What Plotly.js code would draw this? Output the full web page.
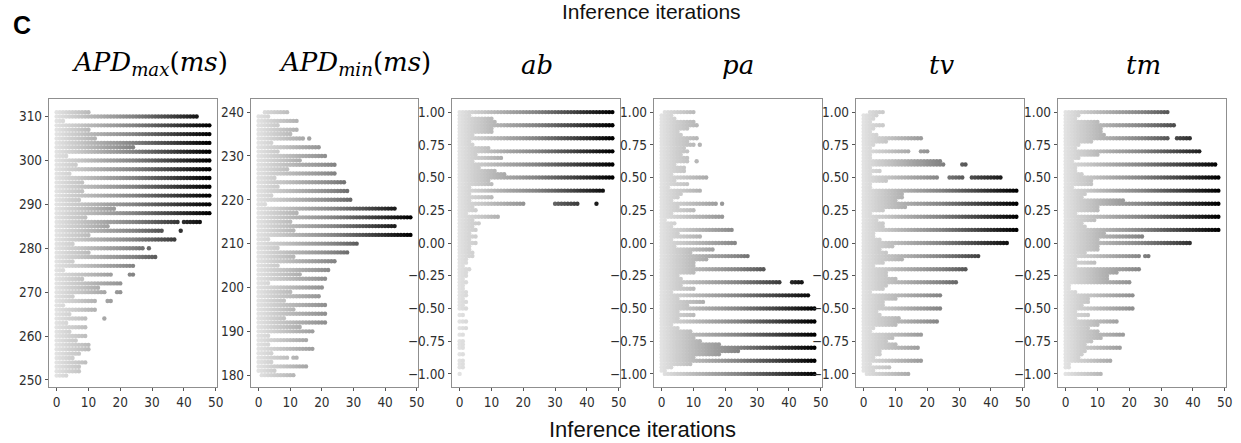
<!DOCTYPE html>
<html>
<head>
<meta charset="utf-8">
<script src="https://cdn.plot.ly/plotly-3.0.1.min.js"></script>
<style>
  html, body { margin: 0; padding: 0; background: #ffffff; }
  #chart { width: 1241px; height: 443px; }
</style>
</head>
<body>
<div id="chart"></div>
<script>
// Each row: [parameter value, first iteration, last iteration] for which that value is present.
const apdMaxRows = [
  [311,0,10],[310,0,44],[309,0,2],[308,0,48],[307,0,10],[306,0,48],[305,0,12],[304,0,48],
  [303,0,24],[302,0,48],[301,0,3],[300,0,48],[299,0,6],[298,0,48],[297,0,4],[296,0,48],
  [295,0,8],[294,0,48],[293,0,8],[292,0,48],[291,0,7],[290,0,48],[289,0,18],[288,0,48],
  [287,0,9],[286,0,38],[286,40,45],[285,0,16],[284,0,33],[284,39,39],[283,0,10],[282,0,37],
  [281,0,5],[280,0,27],[280,29,29],[279,0,10],[278,0,31],[277,0,5],[276,0,24],[275,0,2],
  [274,0,17],[274,23,24],[273,0,8],[272,0,20],[271,0,13],[270,0,15],[270,19,20],[269,0,5],
  [268,0,12],[268,16,17],[267,0,2],[266,0,12],[265,0,4],[264,0,9],[264,15,15],[263,0,3],
  [262,0,9],[261,0,4],[260,0,9],[259,0,6],[258,0,10],[257,0,10],[256,0,7],[255,0,5],
  [254,0,9],[253,0,7],[252,0,7],[251,0,3]
];

const apdMinRows = [
  [240,2,9],[239,0,3],[238,0,12],[237,0,6],[236,0,12],[235,0,10],[234,0,14],[234,16,16],
  [233,0,4],[232,0,19],[231,0,6],[230,0,21],[229,0,13],[228,0,24],[227,0,9],[226,0,24],
  [225,0,5],[224,0,27],[223,0,6],[222,0,28],[221,0,4],[220,0,29],[219,0,2],[218,0,43],
  [217,0,12],[216,0,48],[215,0,10],[214,0,43],[213,0,11],[212,0,48],[211,0,3],[210,0,31],
  [209,0,6],[208,0,28],[207,0,11],[206,0,24],[205,0,6],[204,0,22],[203,0,13],[202,0,21],
  [201,0,3],[200,0,20],[199,0,10],[198,0,19],[197,0,8],[196,0,21],[195,0,11],[194,0,21],
  [193,0,8],[192,0,21],[191,0,13],[190,0,17],[189,0,3],[188,0,15],[187,0,3],[186,0,17],
  [185,0,4],[184,0,9],[184,11,12],[183,0,4],[182,0,15],[181,0,5],[180,1,11]
];

const abRows = [
  [1.00,0,48],[0.975,0,3],[0.95,0,10],[0.925,0,11],[0.90,0,48],[0.875,0,10],[0.85,0,10],
  [0.825,0,4],[0.80,0,48],[0.775,0,3],[0.75,0,4],[0.725,0,9],[0.70,0,48],[0.675,0,5],
  [0.65,0,13],[0.625,0,4],[0.60,0,48],[0.575,0,6],[0.55,0,11],[0.525,0,14],[0.50,0,48],
  [0.475,0,9],[0.45,0,10],[0.425,0,3],[0.40,0,45],[0.375,0,3],[0.35,0,10],[0.325,0,3],
  [0.30,0,20],[0.30,30,37],[0.30,43,43],[0.275,0,4],[0.25,0,5],[0.225,0,2],[0.20,0,12],
  [0.175,0,4],[0.15,0,6],[0.125,0,4],[0.10,0,5],[0.075,0,3],[0.05,0,5],[0.025,0,3],
  [0.00,0,5],[-0.025,0,3],[-0.05,0,3],[-0.075,0,4],[-0.10,0,4],[-0.125,0,2],[-0.15,0,2],
  [-0.175,0,1],[-0.20,0,3],[-0.225,0,2],[-0.25,0,2],[-0.275,0,1],[-0.30,0,2],[-0.325,0,1],
  [-0.35,0,1],[-0.375,0,2],[-0.40,0,2],[-0.425,0,1],[-0.45,0,2],[-0.475,0,1],[-0.50,0,2],
  [-0.55,0,1],[-0.60,0,2],[-0.65,0,2],[-0.70,0,1],[-0.75,0,1],[-0.775,0,1],[-0.80,0,1],
  [-0.85,0,1],[-0.90,0,1],[-0.925,0,1],[-0.95,0,1],[-1.00,0,0]
];

const paRows = [
  [1.00,1,10],[0.975,0,3],[0.95,0,4],[0.925,0,10],[0.90,0,11],[0.875,0,8],[0.85,0,5],
  [0.825,0,6],[0.80,0,11],[0.775,0,8],[0.75,0,10],[0.75,12,12],[0.725,0,7],[0.70,0,8],
  [0.675,0,6],[0.65,0,8],[0.625,0,8],[0.625,11,11],[0.60,0,4],[0.575,0,7],[0.55,0,7],
  [0.525,0,3],[0.50,0,14],[0.475,0,4],[0.45,0,8],[0.425,0,2],[0.40,0,12],[0.375,0,6],
  [0.35,0,5],[0.325,0,3],[0.30,0,17],[0.30,19,19],[0.275,0,5],[0.25,0,10],[0.225,0,3],
  [0.20,0,19],[0.175,0,1],[0.15,0,4],[0.125,0,3],[0.10,0,22],[0.075,0,5],[0.05,0,12],
  [0.025,0,3],[0.00,0,23],[-0.025,0,4],[-0.05,0,16],[-0.075,0,9],[-0.10,0,27],[-0.125,0,14],
  [-0.15,0,10],[-0.175,0,10],[-0.20,0,32],[-0.225,0,10],[-0.25,0,5],[-0.275,0,6],
  [-0.30,0,37],[-0.30,41,44],[-0.325,0,6],[-0.35,0,10],[-0.375,0,3],[-0.40,0,46],
  [-0.425,0,5],[-0.45,0,13],[-0.475,0,8],[-0.50,0,48],[-0.525,0,5],[-0.55,0,10],
  [-0.575,0,5],[-0.60,0,48],[-0.625,0,3],[-0.65,0,5],[-0.675,0,9],[-0.70,0,48],
  [-0.725,0,10],[-0.75,0,12],[-0.775,0,18],[-0.80,0,48],[-0.825,0,24],[-0.85,0,18],
  [-0.875,0,10],[-0.90,0,48],[-0.925,0,9],[-0.95,0,3],[-0.975,0,1],[-1.00,1,48]
];

const tvRows = [
  [1.00,2,6],[0.975,0,4],[0.95,0,3],[0.925,0,2],[0.90,0,6],[0.875,0,3],[0.85,0,2],
  [0.825,0,4],[0.80,0,18],[0.775,0,7],[0.75,0,3],[0.725,0,2],[0.70,0,14],[0.70,18,20],
  [0.675,0,2],[0.65,0,2],[0.625,0,24],[0.60,0,25],[0.60,31,32],[0.575,0,2],[0.55,0,5],
  [0.525,0,2],[0.50,0,23],[0.50,27,31],[0.50,34,43],[0.475,0,7],[0.45,0,2],[0.425,0,2],
  [0.40,0,48],[0.375,0,12],[0.35,0,12],[0.325,0,10],[0.30,0,48],[0.275,0,13],[0.25,0,6],
  [0.225,0,2],[0.20,0,48],[0.175,0,4],[0.15,0,6],[0.125,0,6],[0.10,0,48],[0.075,0,3],
  [0.05,0,3],[0.025,0,5],[0.00,0,45],[-0.025,0,9],[-0.05,0,5],[-0.075,0,7],[-0.10,0,36],
  [-0.125,0,12],[-0.15,0,6],[-0.175,0,3],[-0.20,0,32],[-0.225,0,7],[-0.25,0,7],
  [-0.275,0,10],[-0.30,0,29],[-0.325,0,7],[-0.35,0,6],[-0.375,0,2],[-0.40,0,24],
  [-0.425,0,10],[-0.45,0,6],[-0.475,0,6],[-0.50,0,24],[-0.525,0,4],[-0.55,0,5],
  [-0.575,0,11],[-0.60,0,23],[-0.625,0,10],[-0.65,0,3],[-0.675,0,2],[-0.70,0,18],
  [-0.725,0,9],[-0.75,0,7],[-0.775,0,10],[-0.80,0,17],[-0.825,0,5],[-0.85,0,5],
  [-0.875,0,3],[-0.90,0,18],[-0.925,0,2],[-0.95,0,8],[-0.975,0,3],[-1.00,1,14]
];

const tmRows = [
  [1.00,0,32],[0.975,0,4],[0.95,0,3],[0.925,0,10],[0.90,0,34],[0.875,0,11],[0.85,0,11],
  [0.825,0,12],[0.80,0,32],[0.80,35,39],[0.775,0,8],[0.75,0,4],[0.725,0,3],[0.70,0,42],
  [0.675,0,10],[0.65,0,4],[0.625,0,2],[0.60,0,47],[0.575,0,3],[0.55,0,3],[0.525,0,5],
  [0.50,0,48],[0.475,0,8],[0.45,0,8],[0.425,0,2],[0.40,0,48],[0.375,0,6],[0.35,0,5],
  [0.325,0,18],[0.30,0,48],[0.275,0,10],[0.25,0,10],[0.225,0,3],[0.20,0,48],[0.175,0,9],
  [0.15,0,5],[0.125,0,6],[0.10,0,48],[0.075,0,12],[0.05,0,24],[0.025,0,10],[0.00,0,39],
  [-0.025,0,10],[-0.05,0,10],[-0.075,0,6],[-0.10,0,23],[-0.10,25,26],[-0.125,0,3],
  [-0.15,0,9],[-0.175,0,3],[-0.20,0,23],[-0.225,0,16],[-0.25,0,13],[-0.275,0,13],
  [-0.30,0,20],[-0.325,0,1],[-0.35,0,1],[-0.375,0,3],[-0.40,0,21],[-0.425,0,7],
  [-0.45,0,7],[-0.475,0,5],[-0.50,0,21],[-0.525,0,3],[-0.55,0,7],[-0.575,0,3],
  [-0.60,0,16],[-0.625,0,10],[-0.65,0,7],[-0.675,0,10],[-0.70,0,18],[-0.725,0,11],
  [-0.75,0,8],[-0.775,0,6],[-0.80,0,17],[-0.825,0,6],[-0.85,0,5],[-0.875,0,4],
  [-0.90,0,14],[-0.925,0,1],[-0.95,0,1],[-1.00,0,11]
];

const panelTitles = [
  '<i>APD</i><sub><i>max</i></sub>(<i>ms</i>)',
  '<i>APD</i><sub><i>min</i></sub>(<i>ms</i>)',
  '<i>ab</i>', '<i>pa</i>', '<i>tv</i>', '<i>tm</i>'
];
const xTicks = [0, 10, 20, 30, 40, 50];
const apdMaxTicks = [250, 260, 270, 280, 290, 300, 310];
const apdMinTicks = [180, 190, 200, 210, 220, 230, 240];
const unitTicks = [-1, -0.75, -0.5, -0.25, 0, 0.25, 0.5, 0.75, 1];
const lastIteration = 48;

const W = 1241, H = 443;
const px = v => v / W;
const py = v => 1 - v / H;

const panels = [
  { rows: apdMaxRows, left: 49,   right: 217,  yr: [248.4, 314], ticks: apdMaxTicks, fmt: 'd',   tx: 150 },
  { rows: apdMinRows, left: 251,  right: 418,  yr: [177.3, 243], ticks: apdMinTicks, fmt: 'd',   tx: 355 },
  { rows: abRows,     left: 452,  right: 620,  yr: [-1.1, 1.1],  ticks: unitTicks,   fmt: '.2f', tx: 537 },
  { rows: paRows,     left: 654,  right: 822,  yr: [-1.1, 1.1],  ticks: unitTicks,   fmt: '.2f', tx: 738 },
  { rows: tvRows,     left: 856,  right: 1024, yr: [-1.1, 1.1],  ticks: unitTicks,   fmt: '.2f', tx: 941 },
  { rows: tmRows,     left: 1058, right: 1226, yr: [-1.1, 1.1],  ticks: unitTicks,   fmt: '.2f', tx: 1143 }
];

const plotTop = 99, plotBottom = 387;
const frameColor = '#8f8f8f';
const tickFont = { family: 'Liberation Sans Narrow, DejaVu Sans Condensed, sans-serif', size: 13.5, color: '#2e2e2e' };

// Expand each row into one point per iteration, shaded by iteration.
function expand(rows) {
  const x = [], y = [], c = [];
  rows.forEach(([val, first, last]) => {
    for (let it = first; it <= last; it++) { x.push(it); y.push(val); c.push(it); }
  });
  // lighter points first so darker iterations sit on top
  const order = x.map((_, i) => i).sort((a, b) => c[a] - c[b]);
  return { x: order.map(i => x[i]), y: order.map(i => y[i]), c: order.map(i => c[i]) };
}

const traces = [];
const layout = {
  width: W, height: H,
  margin: { l: 0, r: 0, t: 0, b: 0 },
  paper_bgcolor: '#ffffff', plot_bgcolor: '#ffffff',
  showlegend: false,
  annotations: []
};

panels.forEach((p, i) => {
  const n = i + 1;
  const pts = expand(p.rows);
  traces.push({
    type: 'scatter', mode: 'markers',
    x: pts.x, y: pts.y,
    xaxis: 'x' + (n === 1 ? '' : n), yaxis: 'y' + (n === 1 ? '' : n),
    marker: {
      size: 4.4, color: pts.c, cmin: 0, cmax: lastIteration,
      colorscale: [[0, '#e2e2e2'], [0.5, '#848484'], [1, '#000000']],
      line: { width: 0 }
    },
    hoverinfo: 'skip'
  });
  const xa = {
    domain: [px(p.left), px(p.right)], range: [-2.4, 50.4],
    anchor: 'y' + (n === 1 ? '' : n),
    tickmode: 'array', tickvals: xTicks, ticks: 'outside', ticklen: 3, tickwidth: 1, tickcolor: '#555',
    showline: true, mirror: true, linecolor: frameColor, linewidth: 1.2,
    showgrid: false, zeroline: false, tickfont: tickFont, fixedrange: true
  };
  const ya = {
    domain: [py(plotBottom), py(plotTop)], range: p.yr,
    anchor: 'x' + (n === 1 ? '' : n),
    tickmode: 'array', tickvals: p.ticks, tickformat: p.fmt,
    ticks: 'outside', ticklen: 3, tickwidth: 1, tickcolor: '#555',
    showline: true, mirror: true, linecolor: frameColor, linewidth: 1.2,
    showgrid: false, zeroline: false, tickfont: tickFont, fixedrange: true
  };
  layout['xaxis' + (n === 1 ? '' : n)] = xa;
  layout['yaxis' + (n === 1 ? '' : n)] = ya;
  layout.annotations.push({
    text: panelTitles[i], xref: 'paper', yref: 'paper',
    x: px(p.tx), y: py(82), xanchor: 'center', yanchor: 'bottom', showarrow: false,
    font: { family: 'DejaVu Serif, serif', size: 26, color: '#000000' }
  });
});

layout.annotations.push(
  { text: '<b>C</b>', xref: 'paper', yref: 'paper', x: px(11), y: py(41), xanchor: 'left', yanchor: 'bottom',
    showarrow: false, font: { family: 'Liberation Sans, Arial, sans-serif', size: 25, color: '#000000' } },
  { text: 'Inference iterations', xref: 'paper', yref: 'paper', x: px(651), y: py(25), xanchor: 'center', yanchor: 'bottom',
    showarrow: false, font: { family: 'Liberation Sans, Arial, sans-serif', size: 21, color: '#111111' } },
  { text: 'Inference iterations', xref: 'paper', yref: 'paper', x: px(642), y: py(444), xanchor: 'center', yanchor: 'bottom',
    showarrow: false, font: { family: 'Liberation Sans, Arial, sans-serif', size: 22, color: '#111111' } }
);

Plotly.newPlot('chart', traces, layout, { staticPlot: true, displayModeBar: false });
</script>
</body>
</html>
